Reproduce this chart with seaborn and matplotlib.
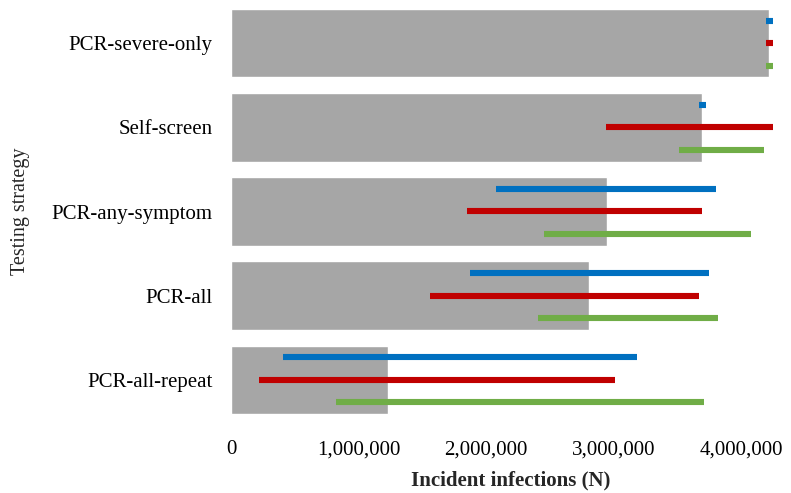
import matplotlib
matplotlib.use("Agg")
import matplotlib.pyplot as plt
import seaborn as sns
import pandas as pd

# Testing strategies (top to bottom)
strategies = ["PCR-severe-only", "Self-screen", "PCR-any-symptom", "PCR-all", "PCR-all-repeat"]

# Base-case incident infections
base_infections = [4220000, 3690000, 2950000, 2810000, 1230000]

# Sensitivity ranges (low, high) for three scenarios
blue_low = [4195000, 3670000, 2080000, 1870000, 405000]
blue_high = [4245000, 3720000, 3800000, 3750000, 3180000]
red_low = [4195000, 2940000, 1850000, 1560000, 220000]
red_high = [4245000, 4250000, 3690000, 3670000, 3010000]
green_low = [4195000, 3510000, 2450000, 2410000, 820000]
green_high = [4245000, 4180000, 4080000, 3820000, 3710000]

xticks = [0, 1000000, 2000000, 3000000, 4000000]

sns.set_theme(style="white")
plt.rcParams["font.family"] = ["Liberation Serif", "DejaVu Serif"]

df = pd.DataFrame({"strategy": strategies, "infections": base_infections})

fig = plt.figure(figsize=(7.91, 4.93), dpi=100)
ax = fig.add_axes([231 / 791, 1 - 422 / 493, 560 / 791, 421 / 493])

sns.barplot(data=df, x="infections", y="strategy", order=strategies, color="#A6A6A6",
            saturation=1, width=0.817, orient="h", ax=ax)

pos = range(len(strategies))
offset = 0.268
ranges = [
    (blue_low, blue_high, "#0070C0", -offset),
    (red_low, red_high, "#C00000", 0.0),
    (green_low, green_high, "#70AD47", offset),
]
for lo, hi, col, off in ranges:
    ax.hlines([p + off for p in pos], lo, hi, colors=col, linewidth=4.4, capstyle="butt", zorder=3)

ax.set_xlim(0, 4390000)
ax.set_ylim(4.5, -0.5)
ax.set_xticks(xticks)
ax.set_xticklabels([f"{v:,}" for v in xticks])
ax.tick_params(axis="both", length=0, labelsize=15, colors="black")
ax.tick_params(axis="y", pad=13.5)
ax.tick_params(axis="x", pad=13)
for s in ax.spines.values():
    s.set_visible(False)
ax.grid(False)

ax.set_xlabel("Incident infections (N)", fontsize=15, fontweight="bold", labelpad=8.5)
ax.set_ylabel("Testing strategy", fontsize=14.5, labelpad=15)

fig.savefig("out.png", dpi=100)
